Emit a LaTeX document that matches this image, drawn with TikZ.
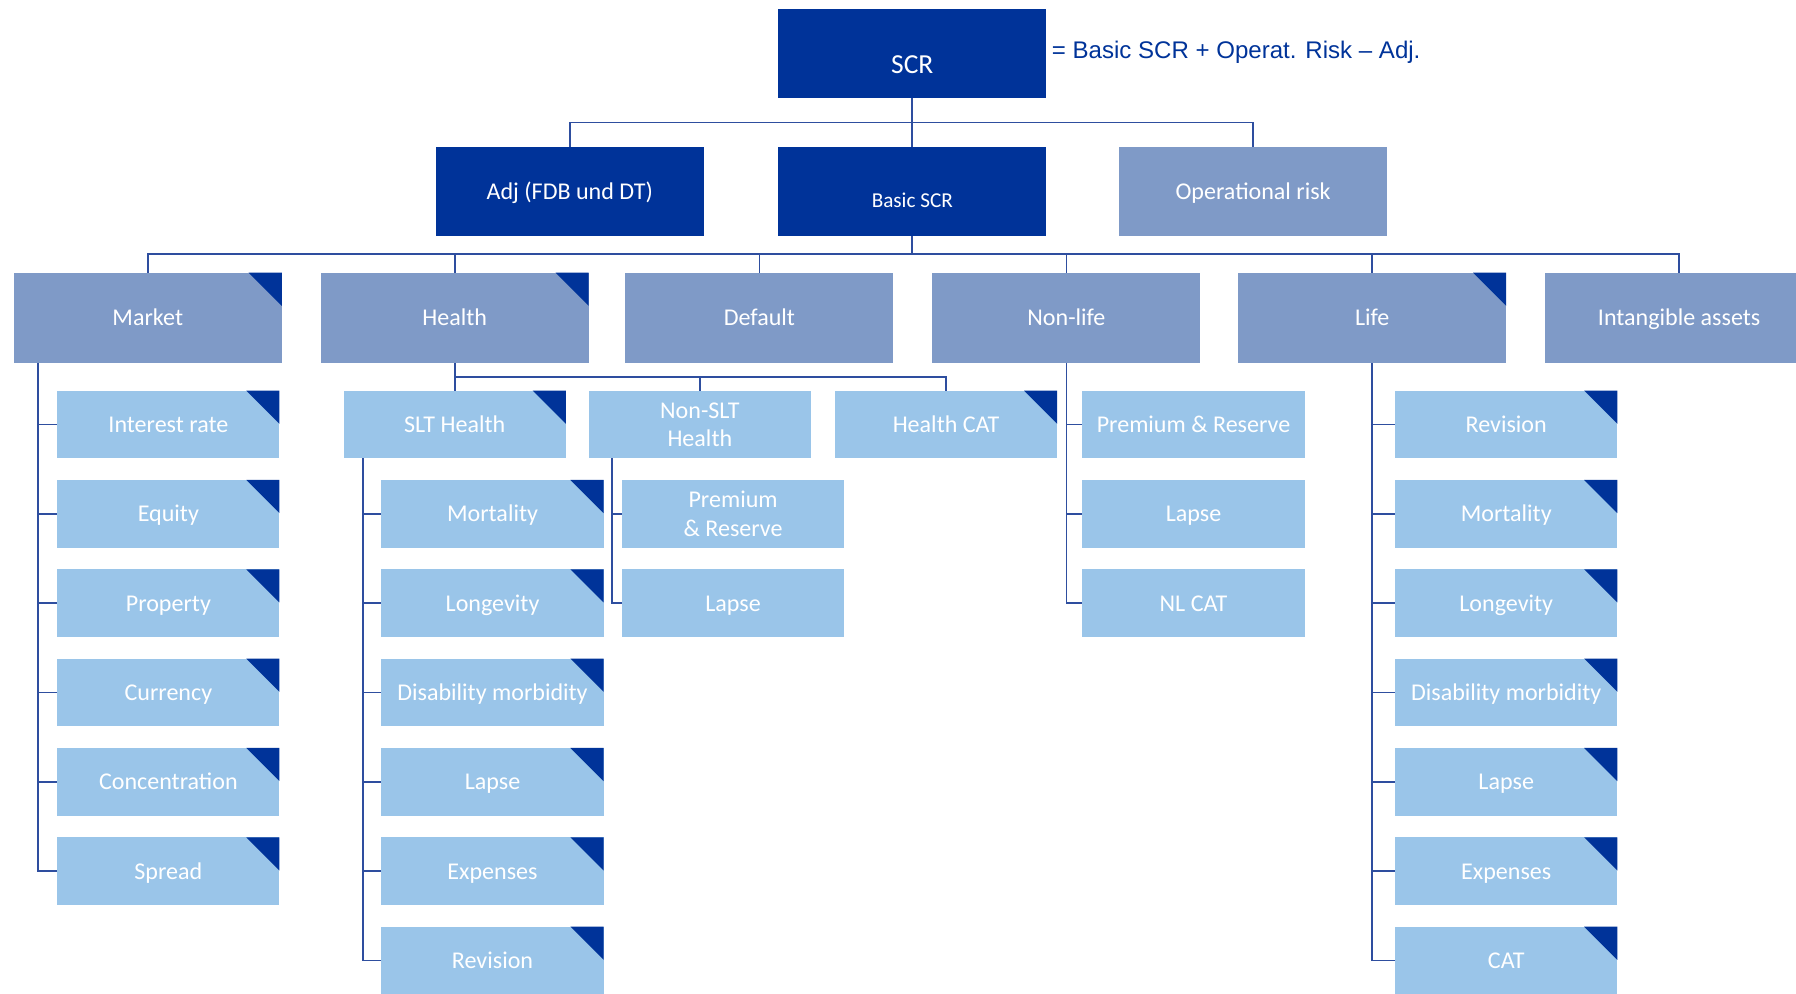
\documentclass[tikz,border=0pt]{standalone}
\usepackage{fontspec}
\setmainfont{Carlito}
\newfontfamily\formulafont{Liberation Sans}
\definecolor{navy}{HTML}{003399}
\definecolor{steel}{HTML}{7F9AC7}
\definecolor{sky}{HTML}{9AC5E9}
\definecolor{wire}{HTML}{2E4E9F}
\begin{document}
\begin{tikzpicture}[x=0.5pt,y=-0.5pt,
  box/.style={rectangle, inner sep=0pt, outer sep=0pt, text=white,
    font=\fontsize{10.5}{12.5}\selectfont, align=center,
    text height=7.5pt, text depth=0.5pt},
  twoline/.style={text height=20pt, text depth=0.5pt},
  topbox/.style={box, minimum width=117pt, minimum height=39pt},
  midbox/.style={box, fill=steel, minimum width=117pt, minimum height=39.5pt},
  subbox/.style={box, fill=sky, minimum width=97pt, minimum height=29.5pt},
  flag/.style={path picture={\fill[navy]
    ([xshift=-14.5pt]path picture bounding box.north east) --
    (path picture bounding box.north east) --
    ([yshift=-14.5pt]path picture bounding box.north east) -- cycle;}},
  conn/.style={draw=wire, line width=0.75pt}
]
\useasboundingbox (0,0) rectangle (1568,867);
\clip (0,0) rectangle (1568,867);

% top level
\node[topbox, fill=navy, font=\fontsize{12}{14}\selectfont, text height=17.6pt, text depth=0pt] (scr) at (796.5,46.5) {SCR};
\node[anchor=west, inner sep=0pt, text=navy, font=\formulafont\fontsize{10.5}{12}\selectfont] (formula) at (918,46) {= Basic SCR + Operat. Risk – Adj.};
\node[topbox, fill=navy] (adj) at (497.5,167) {Adj (FDB und DT)};
\node[topbox, fill=navy, font=\fontsize{9.25}{11}\selectfont, text height=14pt, text depth=0pt] (basic) at (796.5,167) {Basic SCR};
\node[topbox, fill=steel] (oprisk) at (1094,167) {Operational risk};

\coordinate (bus1) at (796.5,107);
\draw[conn] (scr.south) -- (basic.north);
\draw[conn] (adj.north) |- (bus1) -| (oprisk.north);

% risk modules
\node[midbox, flag] (market) at (129,277.5) {Market};
\node[midbox, flag] (health) at (397,277.5) {Health};
\node[midbox] (default) at (663,277.5) {Default};
\node[midbox] (nonlife) at (931,277.5) {Non-life};
\node[midbox, flag] (life) at (1198,277.5) {Life};
\node[midbox] (intang) at (1466,277.5) {Intangible assets};

\coordinate (bus2) at (796.5,222);
\draw[conn] (basic.south) -- (bus2);
\draw[conn] (market.north) |- (bus2) -| (intang.north);
\foreach \m in {health,default,nonlife,life}
  \draw[conn] (\m.north) |- (bus2);

% market sub-modules
\coordinate (mkbus) at (33,317);
\foreach \n/\t/\y in {ir/Interest rate/370.5, eq/Equity/448.5, prop/Property/526.5,
    cur/Currency/604.5, conc/Concentration/682.5, spr/Spread/760.5}{
  \node[subbox, flag] (\n) at (147,\y) {\t};
  \draw[conn] (mkbus) |- (\n.west);
}

% health sub-modules
\node[subbox, flag] (slt) at (397,370.5) {SLT Health};
\node[subbox, twoline] (nonslt) at (611,370.5) {Non-SLT\\Health};
\node[subbox, flag] (hcat) at (826,370.5) {Health CAT};
\coordinate (hbus) at (397,329);
\draw[conn] (health.south) -- (slt.north);
\draw[conn] (hbus) -| (nonslt.north);
\draw[conn] (hbus) -| (hcat.north);

\coordinate (sltbus) at (317,400);
\foreach \n/\t/\y in {smort/Mortality/448.5, slong/Longevity/526.5, sdis/Disability morbidity/604.5,
    slapse/Lapse/682.5, sexp/Expenses/760.5, srev/Revision/838.5}{
  \node[subbox, flag] (\n) at (430,\y) {\t};
  \draw[conn] (sltbus) |- (\n.west);
}

\coordinate (nsbus) at (534,400);
\node[subbox, twoline] (nspr) at (640,448.5) {Premium\\\& Reserve};
\node[subbox] (nslapse) at (640,526.5) {Lapse};
\draw[conn] (nsbus) |- (nspr.west);
\draw[conn] (nsbus) |- (nslapse.west);

% non-life sub-modules
\foreach \n/\t/\y in {nlpr/Premium \& Reserve/370.5, nllapse/Lapse/448.5, nlcat/NL CAT/526.5}{
  \node[subbox] (\n) at (1042,\y) {\t};
  \draw[conn] (nonlife.south) |- (\n.west);
}

% life sub-modules
\foreach \n/\t/\y in {lrev/Revision/370.5, lmort/Mortality/448.5, llong/Longevity/526.5,
    ldis/Disability morbidity/604.5, llapse/Lapse/682.5, lexp/Expenses/760.5, lcat/CAT/838.5}{
  \node[subbox, flag] (\n) at (1315,\y) {\t};
  \draw[conn] (life.south) |- (\n.west);
}
\end{tikzpicture}
\end{document}
